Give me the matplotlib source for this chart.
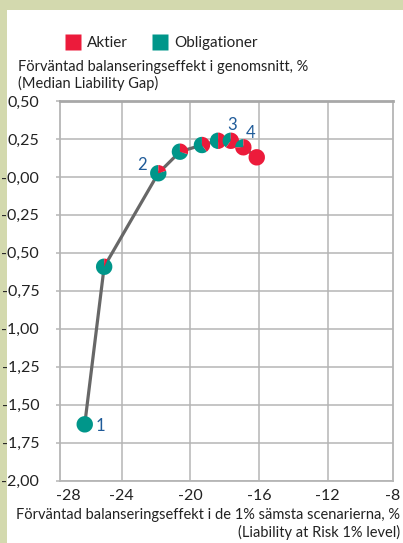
import matplotlib
matplotlib.use("Agg")
import matplotlib.pyplot as plt
import matplotlib.transforms as mtransforms
from matplotlib.patches import Wedge, Rectangle
from matplotlib.lines import Line2D
import numpy as np

# ---- data ----
lar_x = [-26.14, -25.01, -21.86, -20.60, -19.32, -18.38, -17.64, -16.91, -16.13]
median_gap_y = [-1.63, -0.592, 0.024, 0.166, 0.21, 0.238, 0.238, 0.195, 0.129]
aktier_share = [0.0, 0.07, 0.2, 0.3, 0.4, 0.5, 0.6, 0.75, 1.0]
point_labels = {0: "1", 2: "2", 6: "3", 7: "4"}
label_offsets = {0: (11.5, -1.2), 2: (-12, 6), 6: (1, 11), 7: (5, 10)}
y_ticks = [0.5, 0.25, 0.0, -0.25, -0.5, -0.75, -1.0, -1.25, -1.5, -1.75, -2.0]
y_ticklabels = ["0,50", "0,25", "-0,00", "-0,25", "-0,50", "-0,75", "-1,00",
                "-1,25", "-1,50", "-1,75", "-2,00"]
x_ticks = [-24, -20, -16, -12]
x_ticklabels = ["-24", "-20", "-16", "-12"]
x_edge_ticks = [-27.12, -8.2]
x_edge_labels = ["-28", "-8"]
series_names = ["Aktier", "Obligationer"]

RED = "#ec1b3b"
GREEN = "#00968a"
GRID = "#b5b5b5"
BLUE = "#1f5b99"
TXT = "#222222"
TEXTURE = "#d3d9ae"

plt.rcParams["font.family"] = ["Lato", "DejaVu Sans"]

W, H = 403, 543
fig = plt.figure(figsize=(W / 100, H / 100), dpi=100)
fig.patch.set_facecolor("white")
# textured strips (left and top)
fig.add_artist(Rectangle((0, 0), 7 / W, 1, transform=fig.transFigure,
                         facecolor=TEXTURE, edgecolor="none", zorder=0))
fig.add_artist(Rectangle((0, 1 - 10 / H), 1, 10 / H, transform=fig.transFigure,
                         facecolor=TEXTURE, edgecolor="none", zorder=0))

ax = fig.add_axes([60 / W, (H - 480.5) / H, (393 - 60) / W, (480.5 - 101) / H])
ax.set_facecolor("white")
ax.set_xlim(-27.58, -8.245)
ax.set_ylim(-2.0, 0.5)

ax.set_yticks(y_ticks)
ax.set_yticklabels(y_ticklabels)
ax.set_xticks(x_ticks)
ax.set_xticklabels(x_ticklabels)
ax.set_xticks(x_edge_ticks, minor=True)
ax.set_xticklabels(x_edge_labels, minor=True)
ax.grid(True, which="major", color=GRID, linewidth=1.1)
ax.set_axisbelow(True)
ax.tick_params(axis="y", length=3, color=GRID, width=1.1, pad=12, labelsize=11.5, labelcolor=TXT)
ax.tick_params(axis="x", which="both", length=0, pad=6, labelsize=11.5, labelcolor=TXT)
for s in ["left", "bottom", "top", "right"]:
    ax.spines[s].set_color(GRID)
    ax.spines[s].set_linewidth(1.3)
ax.spines["top"].set_color("#a8a8a8")
ax.spines["top"].set_linewidth(2)

ax.plot(lar_x, median_gap_y, color="#676767", linewidth=2.3, zorder=2,
        solid_capstyle="round")

r_in = 0.082
for i, (x, y, f) in enumerate(zip(lar_x, median_gap_y, aktier_share)):
    trans = fig.dpi_scale_trans + mtransforms.ScaledTranslation(x, y, ax.transData)
    if f < 1:
        ax.add_patch(Wedge((0, 0), r_in, 90, 450 - 360 * f, facecolor=GREEN,
                           edgecolor="none", transform=trans, zorder=3))
    if f > 0:
        ax.add_patch(Wedge((0, 0), r_in, 90 - 360 * f, 90, facecolor=RED,
                           edgecolor="none", transform=trans, zorder=3))

for i, lab in point_labels.items():
    ax.annotate(lab, (lar_x[i], median_gap_y[i]), xytext=label_offsets[i],
                textcoords="offset points", ha="center", va="center",
                color=BLUE, fontsize=12, zorder=4)

handles = [Line2D([], [], marker="s", linestyle="none", markersize=11,
                  markerfacecolor=c, markeredgecolor="none") for c in (RED, GREEN)]
fig.legend(handles, series_names, loc="center left",
           bbox_to_anchor=(52 / W, 1 - 43 / H), ncol=2, frameon=False,
           fontsize=11, handlelength=1.0, handletextpad=0.4, columnspacing=1.6,
           labelcolor=TXT)

fig.text(18 / W, 1 - 67 / H, "Förväntad balanseringseffekt i genomsnitt, %",
         ha="left", va="center", fontsize=10.5, color=TXT)
fig.text(18 / W, 1 - 83 / H, "(Median Liability Gap)",
         ha="left", va="center", fontsize=10.5, color=TXT)
fig.text(400 / W, 1 - 515 / H, "Förväntad balanseringseffekt i de 1% sämsta scenarierna, %",
         ha="right", va="center", fontsize=10.5, color=TXT)
fig.text(400 / W, 1 - 532 / H, "(Liability at Risk 1% level)",
         ha="right", va="center", fontsize=10.5, color=TXT)

fig.savefig("out.png", dpi=100, facecolor=fig.get_facecolor())
